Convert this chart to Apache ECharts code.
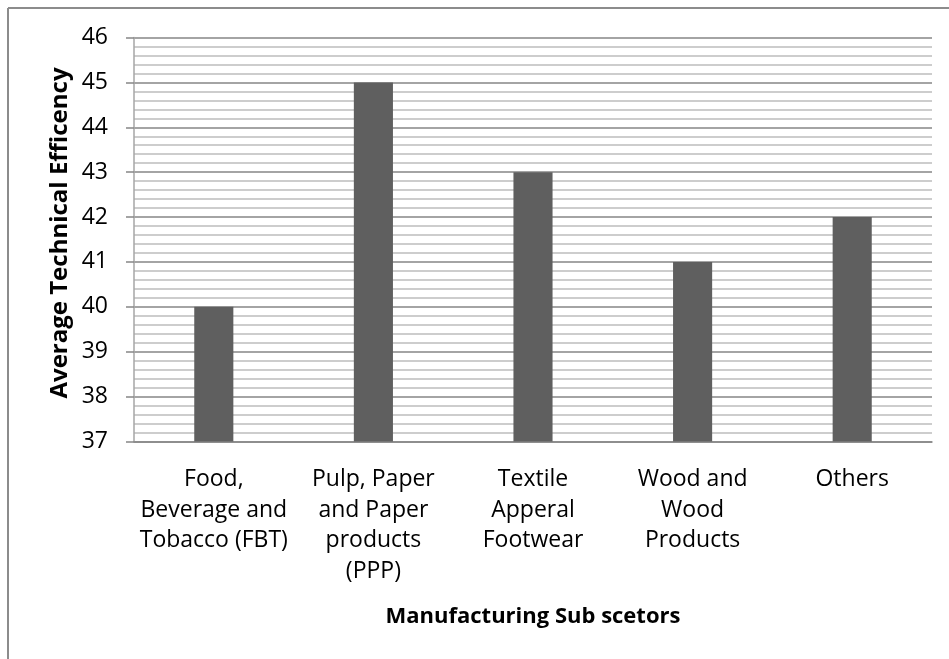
<!DOCTYPE html>
<html>
<head>
<meta charset="utf-8">
<style>
  html, body { margin: 0; padding: 0; background: #ffffff; }
  #chart { width: 949px; height: 659px; }
</style>
<script src="https://cdn.jsdelivr.net/npm/echarts@6/dist/echarts.min.js"></script>
</head>
<body>
<div id="chart"></div>
<script>
// Sub-sector names (line breaks as they wrap under the axis)
const categories = [
  'Food,\nBeverage and\nTobacco (FBT)',
  'Pulp, Paper\nand Paper\nproducts\n(PPP)',
  'Textile\nApperal\nFootwear',
  'Wood and\nWood\nProducts',
  'Others'
];
// Average technical efficiency per sub-sector
const efficiency = [40, 45, 43, 41, 42];
// Value axis range
const yMin = 37;
const yMax = 46;
const yStep = 1;

const FONT = '"Open Sans", "Liberation Sans", sans-serif';

const chart = echarts.init(document.getElementById('chart'), null, { renderer: 'canvas' });

chart.setOption({
  animation: false,
  backgroundColor: '#ffffff',
  grid: { left: 134, right: 17, top: 37.5, bottom: 217.5, containLabel: false },
  graphic: [
    { type: 'line', shape: { x1: 8, y1: 8, x2: 949, y2: 8 }, style: { stroke: '#8c8c8c', lineWidth: 2 } },
    { type: 'line', shape: { x1: 8, y1: 8, x2: 8, y2: 659 }, style: { stroke: '#8c8c8c', lineWidth: 2 } },
    {
      type: 'text', x: 60, y: 233,
      rotation: Math.PI / 2,
      style: {
        text: 'Average Technical Efficency', font: 'bold 24px ' + FONT, fill: '#000',
        align: 'center', verticalAlign: 'middle'
      }
    }
  ],
  xAxis: {
    type: 'category',
    data: categories,
    name: 'Manufacturing Sub scetors',
    nameLocation: 'middle',
    nameGap: 164,
    nameTextStyle: { fontFamily: FONT, fontWeight: 'bold', fontSize: 22, color: '#000' },
    axisLine: { show: true, lineStyle: { color: '#868686', width: 1.5 } },
    axisTick: { show: false },
    axisLabel: {
      interval: 0, margin: 23, fontFamily: FONT, fontSize: 23, color: '#000',
      lineHeight: 30.5, verticalAlign: 'top'
    },
    splitLine: { show: false }
  },
  yAxis: {
    type: 'value',
    min: yMin, max: yMax, interval: yStep,
    axisLine: { show: true, lineStyle: { color: '#a6a6a6', width: 1.5 } },
    axisTick: { show: true, inside: false, length: 8, lineStyle: { color: '#868686', width: 1.5 } },
    axisLabel: { margin: 26, fontFamily: FONT, fontSize: 23, color: '#000' },
    splitLine: { show: true, lineStyle: { color: '#868686', width: 1.5 } },
    minorTick: { show: false, splitNumber: 5 },
    minorSplitLine: { show: true, lineStyle: { color: '#bdbdbd', width: 1.5 } }
  },
  series: [{
    type: 'bar',
    data: efficiency,
    barWidth: '24.5%',
    itemStyle: { color: '#5f5f5f' },
    z: 3
  }]
});
</script>
</body>
</html>
